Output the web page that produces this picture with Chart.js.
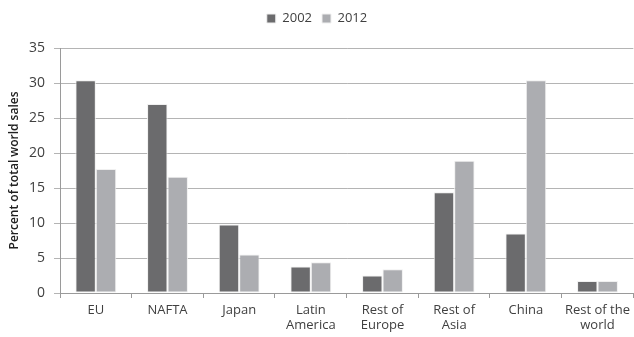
<!DOCTYPE html>
<html>
<head>
<meta charset="utf-8">
<script src="https://cdn.jsdelivr.net/npm/chart.js@4"></script>
<style>
  html, body { margin: 0; padding: 0; background: #fff; }
  #wrap { width: 634px; height: 337px; }
</style>
</head>
<body>
<div id="wrap"><canvas id="sales-chart"></canvas></div>
<script>
// regions
const labelRegion = [["EU"], ["NAFTA"], ["Japan"], ["Latin", "America"], ["Rest of", "Europe"], ["Rest of", "Asia"], ["China"], ["Rest of the", "world"]]
const sales2002 = [30.4, 27.0, 9.8, 3.8, 2.5, 14.4, 8.5, 1.7]
const sales2012 = [17.7, 16.6, 5.5, 4.4, 3.4, 18.9, 30.4, 1.7]
const yTicks = [0, 5, 10, 15, 20, 25, 30, 35]

const fontName = "'Open Sans', 'Liberation Sans', sans-serif"

// extra room under the legend, like the original
const legendGap = {
    id: "legendGap",
    beforeInit: function(chart) {
        const fit = chart.legend.fit
        chart.legend.fit = function() {
            fit.call(this)
            this.height += 13
        }
    }
}

const dataObj = {
    labels: labelRegion,
    datasets: [
        {
            label: "2002",
            data: sales2002,
            backgroundColor: "rgb(107,107,109)",
            borderColor: "rgb(240,240,240)",
            borderWidth: 1,
            borderSkipped: false,
            categoryPercentage: 0.57,
            barPercentage: 1.0
        },
        {
            label: "2012",
            data: sales2012,
            backgroundColor: "rgb(172,173,177)",
            borderColor: "rgb(240,240,240)",
            borderWidth: 1,
            borderSkipped: false,
            categoryPercentage: 0.57,
            barPercentage: 1.0
        }
    ]
}

new Chart("sales-chart", {
    type: "bar",
    data: dataObj,
    plugins: [legendGap],
    options: {
        responsive: true,
        maintainAspectRatio: false,
        animation: false,
        layout: { padding: { top: 2, right: 0, bottom: 0, left: 0 } },
        plugins: {
            legend: {
                display: true,
                position: "top",
                labels: {
                    boxWidth: 9,
                    boxHeight: 9,
                    padding: 10,
                    color: "#404040",
                    font: { family: fontName, size: 13 }
                }
            },
            tooltip: { enabled: false }
        },
        scales: {
            x: {
                grid: {
                    display: true,
                    offset: true,
                    drawOnChartArea: false,
                    drawTicks: true,
                    tickLength: 5,
                    color: "#9a9a9a"
                },
                border: { display: true, color: "#9a9a9a" },
                ticks: {
                    color: "#404040",
                    font: { family: fontName, size: 13 },
                    maxRotation: 0,
                    autoSkip: false,
                    padding: 4
                },
                afterFit: function(scale) { scale.height = 44 }
            },
            y: {
                min: 0,
                max: 35,
                afterBuildTicks: function(scale) {
                    scale.ticks = yTicks.map(v => ({ value: v }))
                },
                grid: {
                    color: "#b4b4b4",
                    drawTicks: true,
                    tickLength: 6
                },
                border: { display: true, color: "#9a9a9a" },
                ticks: {
                    color: "#404040",
                    font: { family: fontName, size: 14 },
                    padding: 9
                },
                title: {
                    display: true,
                    text: "Percent of total world sales",
                    color: "#202020",
                    font: { family: fontName, size: 12, weight: "600" },
                    padding: { top: 7, bottom: 0 }
                },
                afterFit: function(scale) { scale.width = 60 }
            }
        }
    }
});
</script>
</body>
</html>
